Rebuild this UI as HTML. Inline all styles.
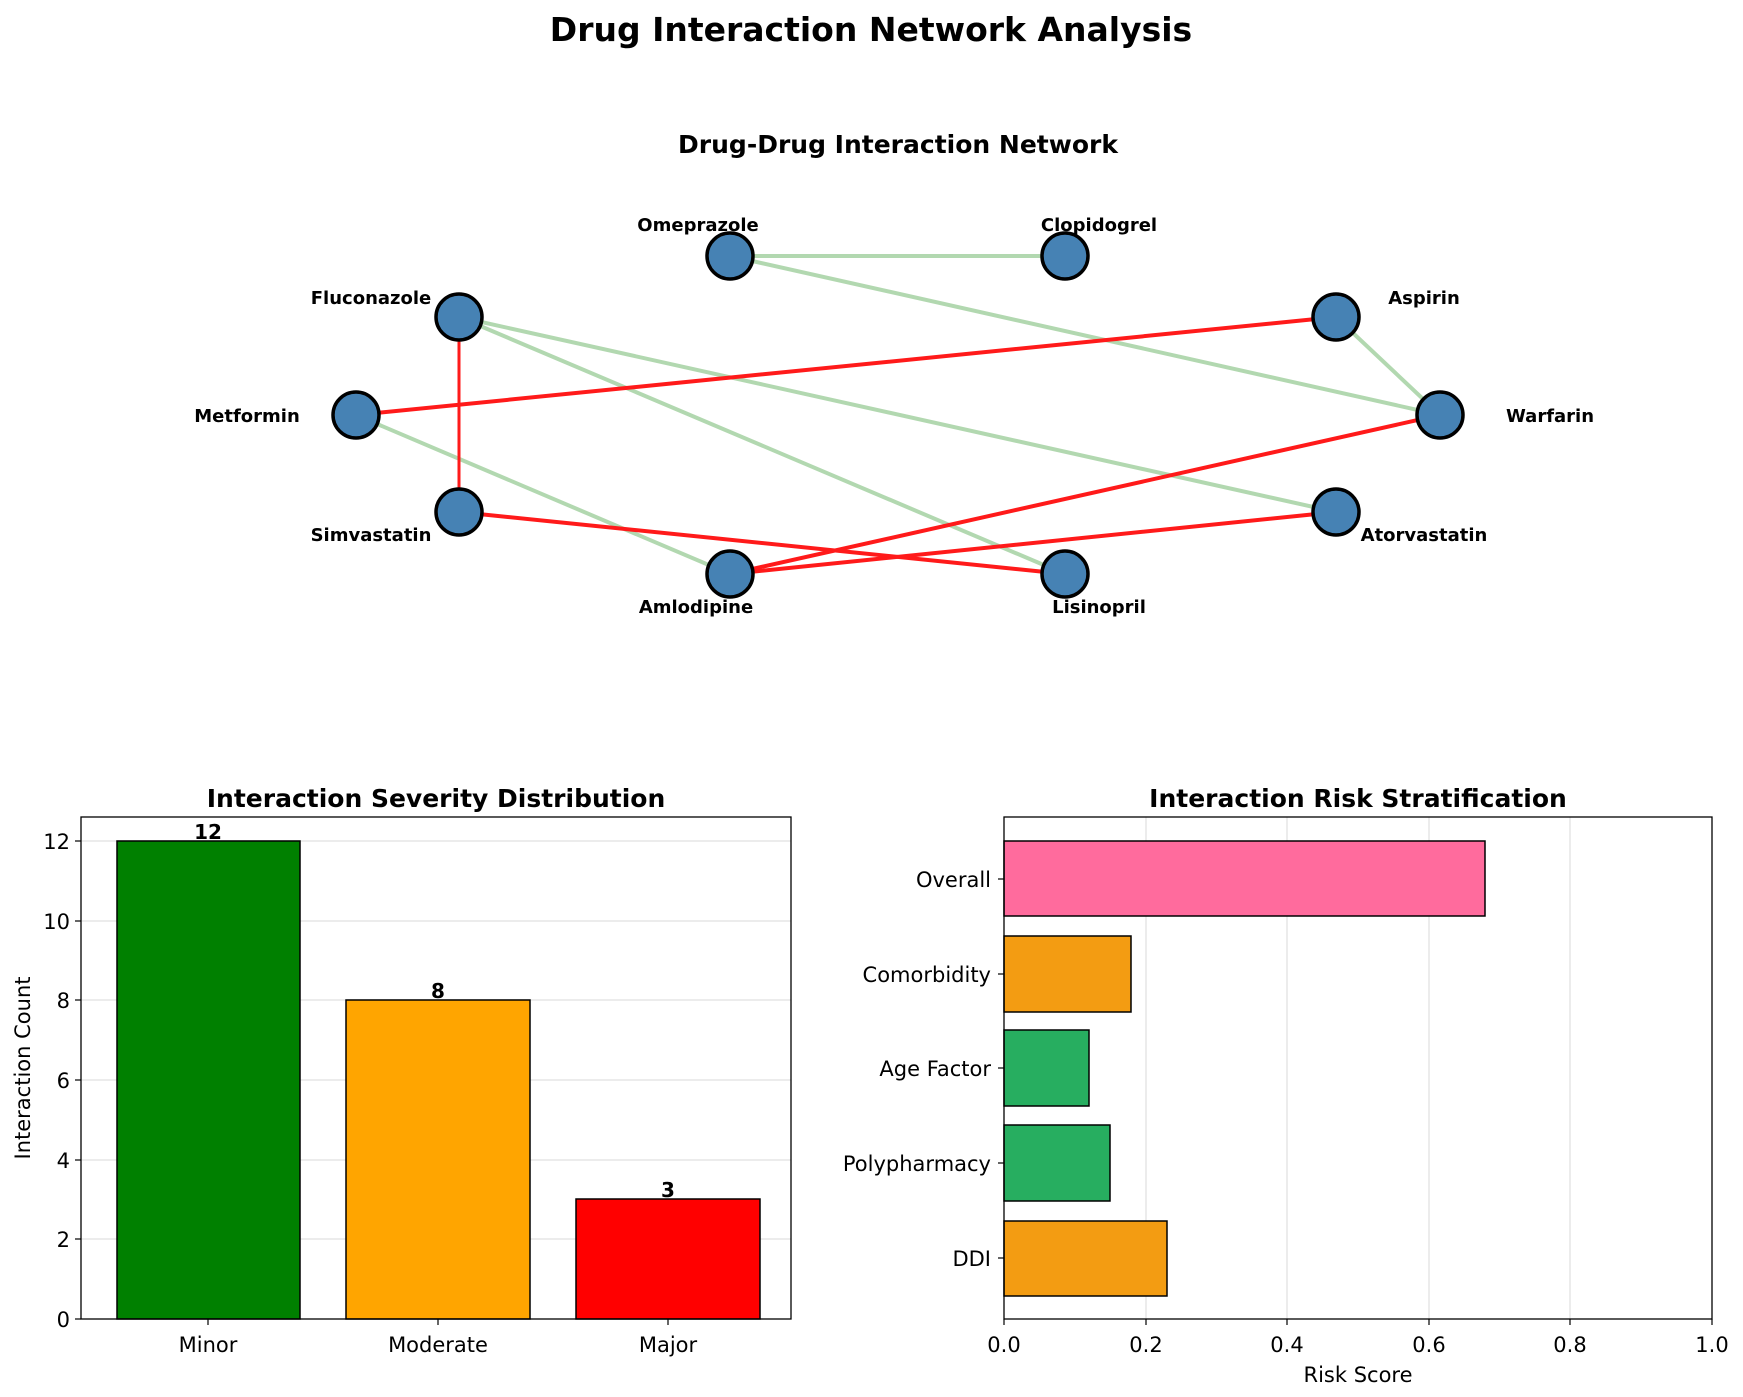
<!DOCTYPE html>
<html><head><meta charset="utf-8"><style>html,body{margin:0;padding:0;background:#fff}svg{display:block}text{font-family:"DejaVu Sans","Liberation Sans",sans-serif}</style></head><body>
<svg width="1743" height="1397" viewBox="0 0 1743 1397" xmlns="http://www.w3.org/2000/svg">
<text x="871" y="41" text-anchor="middle" font-size="33" font-weight="bold">Drug Interaction Network Analysis</text>
<text x="898" y="153" text-anchor="middle" font-size="25" font-weight="bold">Drug-Drug Interaction Network</text>
<g stroke-linecap="round">
<g stroke="#b2d8b0" stroke-width="4">
<line x1="730" y1="256" x2="1065" y2="256"/>
<line x1="730" y1="256" x2="1440" y2="415"/>
<line x1="1336" y1="317" x2="1440" y2="415"/>
<line x1="459" y1="317" x2="1336" y2="512"/>
<line x1="459" y1="317" x2="1065" y2="574"/>
<line x1="356" y1="415" x2="730" y2="574"/>
</g>
<g stroke="#ff1a1a" stroke-width="4">
<line x1="459" y1="317" x2="459" y2="512" stroke-width="3"/>
<line x1="356" y1="415" x2="1336" y2="317"/>
<line x1="1440" y1="415" x2="730" y2="574"/>
<line x1="459" y1="512" x2="1065" y2="574"/>
<line x1="730" y1="574" x2="1336" y2="512"/>
</g>
</g>
<g fill="#4682b4" stroke="#000" stroke-width="3.5">
<circle cx="730" cy="256" r="23"/><circle cx="1065" cy="256" r="23"/>
<circle cx="459" cy="317" r="23"/><circle cx="1336" cy="317" r="23"/>
<circle cx="356" cy="415" r="23"/><circle cx="1440" cy="415" r="23"/>
<circle cx="459" cy="512" r="23"/><circle cx="1336" cy="512" r="23"/>
<circle cx="730" cy="574" r="23"/><circle cx="1065" cy="574" r="23"/>
</g>
<g font-size="18" font-weight="bold" text-anchor="middle">
<text x="698" y="231">Omeprazole</text><text x="1099" y="231">Clopidogrel</text>
<text x="371" y="304">Fluconazole</text><text x="1424" y="304">Aspirin</text>
<text x="247" y="422">Metformin</text><text x="1550" y="422">Warfarin</text>
<text x="371" y="541">Simvastatin</text><text x="1424" y="541">Atorvastatin</text>
<text x="696" y="613">Amlodipine</text><text x="1099" y="613">Lisinopril</text>
</g>
<!-- left chart -->
<text x="436" y="807" text-anchor="middle" font-size="25" font-weight="bold">Interaction Severity Distribution</text>
<g stroke="#e6e6e6" stroke-width="1.5">
<line x1="81" x2="791" y1="1239" y2="1239"/><line x1="81" x2="791" y1="1160" y2="1160"/>
<line x1="81" x2="791" y1="1080" y2="1080"/><line x1="81" x2="791" y1="1000" y2="1000"/>
<line x1="81" x2="791" y1="921" y2="921"/><line x1="81" x2="791" y1="841" y2="841"/>
</g>
<rect x="117" y="841" width="183" height="478" fill="#008000" stroke="#000" stroke-width="1.5"/>
<rect x="346" y="1000" width="184" height="319" fill="#ffa500" stroke="#000" stroke-width="1.5"/>
<rect x="576" y="1199" width="184" height="120" fill="#ff0000" stroke="#000" stroke-width="1.5"/>
<g font-size="20" font-weight="bold" text-anchor="middle">
<text x="208" y="839">12</text><text x="438" y="998">8</text><text x="668" y="1197">3</text>
</g>
<rect x="81" y="817" width="710" height="502" fill="none" stroke="#000" stroke-width="1.3"/>
<g stroke="#000" stroke-width="1.2">
<line x1="75" x2="81" y1="1319" y2="1319"/><line x1="75" x2="81" y1="1239" y2="1239"/><line x1="75" x2="81" y1="1160" y2="1160"/><line x1="75" x2="81" y1="1080" y2="1080"/><line x1="75" x2="81" y1="1000" y2="1000"/><line x1="75" x2="81" y1="921" y2="921"/><line x1="75" x2="81" y1="841" y2="841"/>
<line x1="208" x2="208" y1="1319" y2="1325"/><line x1="438" x2="438" y1="1319" y2="1325"/><line x1="668" x2="668" y1="1319" y2="1325"/>
</g>
<g font-size="21" text-anchor="end">
<text x="70" y="1327">0</text><text x="70" y="1247">2</text><text x="70" y="1168">4</text><text x="70" y="1088">6</text><text x="70" y="1008">8</text><text x="70" y="929">10</text><text x="70" y="849">12</text>
</g>
<g font-size="21" text-anchor="middle">
<text x="208" y="1352">Minor</text><text x="438" y="1352">Moderate</text><text x="668" y="1352">Major</text>
</g>
<text transform="translate(30,1068) rotate(-90)" font-size="21" text-anchor="middle">Interaction Count</text>
<!-- right chart -->
<text x="1358" y="807" text-anchor="middle" font-size="25" font-weight="bold">Interaction Risk Stratification</text>
<g stroke="#e6e6e6" stroke-width="1.5">
<line x1="1146" x2="1146" y1="817" y2="1319"/><line x1="1287" x2="1287" y1="817" y2="1319"/><line x1="1429" x2="1429" y1="817" y2="1319"/><line x1="1570" x2="1570" y1="817" y2="1319"/>
</g>
<g stroke="#000" stroke-width="1.5">
<rect x="1004" y="841" width="481" height="75" fill="#ff6b9d"/>
<rect x="1004" y="936" width="127" height="76" fill="#f39c12"/>
<rect x="1004" y="1030" width="85" height="76" fill="#27ae60"/>
<rect x="1004" y="1125" width="106" height="76" fill="#27ae60"/>
<rect x="1004" y="1221" width="163" height="75" fill="#f39c12"/>
</g>
<rect x="1004" y="817" width="708" height="502" fill="none" stroke="#000" stroke-width="1.3"/>
<g stroke="#000" stroke-width="1.2">
<line x1="998" x2="1004" y1="879" y2="879"/><line x1="998" x2="1004" y1="974" y2="974"/><line x1="998" x2="1004" y1="1068" y2="1068"/><line x1="998" x2="1004" y1="1163" y2="1163"/><line x1="998" x2="1004" y1="1258" y2="1258"/>
<line x1="1004" x2="1004" y1="1319" y2="1325"/><line x1="1146" x2="1146" y1="1319" y2="1325"/><line x1="1287" x2="1287" y1="1319" y2="1325"/><line x1="1429" x2="1429" y1="1319" y2="1325"/><line x1="1570" x2="1570" y1="1319" y2="1325"/><line x1="1712" x2="1712" y1="1319" y2="1325"/>
</g>
<g font-size="21" text-anchor="end">
<text x="991" y="887">Overall</text><text x="991" y="982">Comorbidity</text><text x="991" y="1076">Age Factor</text><text x="991" y="1171">Polypharmacy</text><text x="991" y="1266">DDI</text>
</g>
<g font-size="21" text-anchor="middle">
<text x="1004" y="1352">0.0</text><text x="1146" y="1352">0.2</text><text x="1287" y="1352">0.4</text><text x="1429" y="1352">0.6</text><text x="1570" y="1352">0.8</text><text x="1712" y="1352">1.0</text>
<text x="1358" y="1382">Risk Score</text>
</g>
</svg>
</body></html>
